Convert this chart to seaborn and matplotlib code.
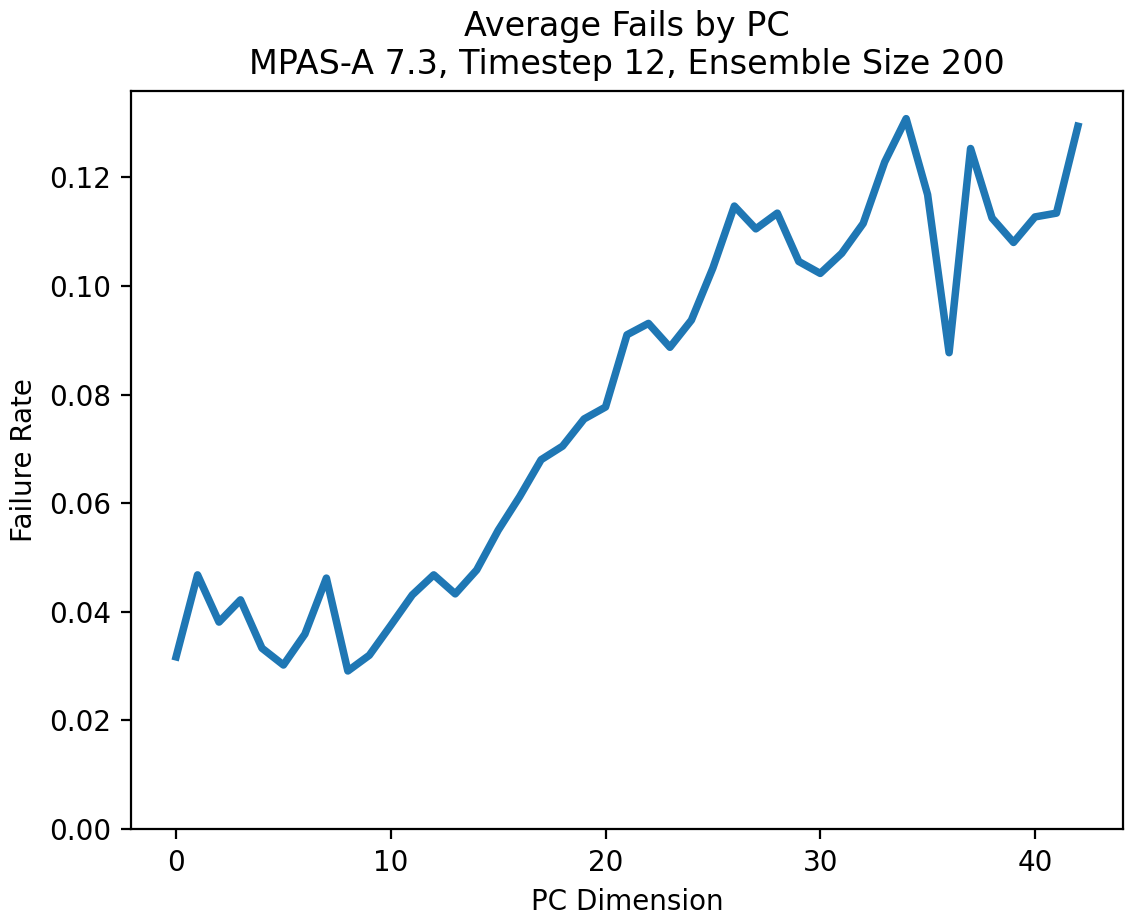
import numpy as np
import pandas as pd
import seaborn as sns
import matplotlib
matplotlib.use("Agg")
import matplotlib.pyplot as plt

# valores
pc_dim = list(range(43))
fail_rate = [
    0.0317, 0.0468, 0.0381, 0.0422, 0.0333, 0.0302, 0.0359, 0.0462, 0.0291, 0.0320,
    0.0375, 0.0431, 0.0468, 0.0433, 0.0477, 0.0550, 0.0612, 0.0680, 0.0705, 0.0755,
    0.0777, 0.0910, 0.0931, 0.0887, 0.0937, 0.1033, 0.1147, 0.1105, 0.1134, 0.1045,
    0.1023, 0.1060, 0.1115, 0.1228, 0.1308, 0.1168, 0.0877, 0.1253, 0.1125, 0.1080,
    0.1127, 0.1134, 0.1294,
]

df = pd.DataFrame({'pc': pc_dim, 'rate': fail_rate})

plt.rcParams.update({
    'font.size': 13.3,
    'axes.titlesize': 16,
    'axes.labelsize': 13.3,
    'xtick.labelsize': 13.3,
    'ytick.labelsize': 13.3,
    'axes.linewidth': 1.07,
    'axes.labelpad': 5.3,
    'axes.titlepad': 8,
    'xtick.major.size': 4.7,
    'ytick.major.size': 4.7,
    'xtick.major.width': 1.07,
    'ytick.major.width': 1.07,
    'xtick.major.pad': 4.7,
    'ytick.major.pad': 4.7,
})

fig, ax = plt.subplots(figsize=(1137 / 150, 923 / 150), dpi=150)
sns.lineplot(x='pc', y='rate', data=df, ax=ax, color='#1f77b4', linewidth=3.6)
ax.set_ylim(bottom=0)
ax.set_xlabel('PC Dimension')
ax.set_ylabel('Failure Rate')
ax.set_title('Average Fails by PC\nMPAS-A 7.3, Timestep 12, Ensemble Size 200')
plt.subplots_adjust(left=0.1152, right=0.9877, top=0.9014, bottom=0.1018)
plt.savefig('out.png', dpi=150)
plt.close()
